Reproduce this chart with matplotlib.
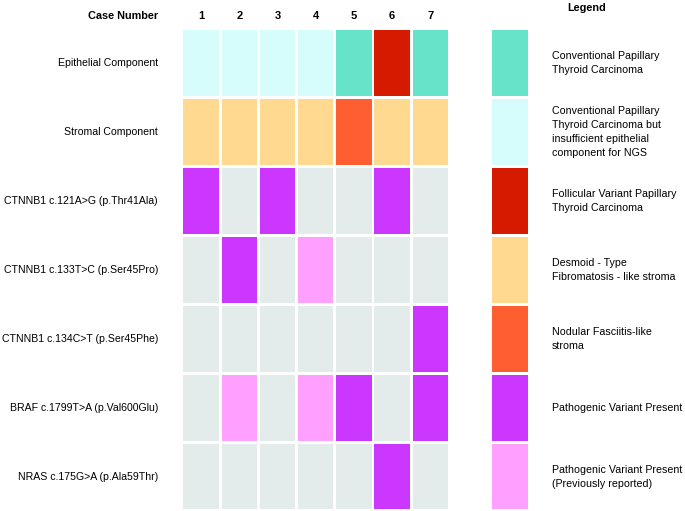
import matplotlib.pyplot as plt

plt.rcParams['font.family'] = ['Liberation Sans', 'DejaVu Sans']

cases = ['1', '2', '3', '4', '5', '6', '7']
rows = ['Epithelial Component', 'Stromal Component',
        'CTNNB1 c.121A>G (p.Thr41Ala)', 'CTNNB1 c.133T>C (p.Ser45Pro)',
        'CTNNB1 c.134C>T (p.Ser45Phe)', 'BRAF c.1799T>A (p.Val600Glu)',
        'NRAS c.175G>A (p.Ala59Thr)']

# category codes per cell
# C conventional PTC, I insufficient, F follicular, D desmoid, N nodular,
# P pathogenic, R previously reported, - none
grid = [
    ['I', 'I', 'I', 'I', 'C', 'F', 'C'],
    ['D', 'D', 'D', 'D', 'N', 'D', 'D'],
    ['P', '-', 'P', '-', '-', 'P', '-'],
    ['-', 'P', '-', 'R', '-', '-', '-'],
    ['-', '-', '-', '-', '-', '-', 'P'],
    ['-', 'R', '-', 'R', 'P', '-', 'P'],
    ['-', '-', '-', '-', '-', 'P', '-'],
]

legend_keys = ['C', 'I', 'F', 'D', 'N', 'P', 'R']
legend_labels = ['Conventional Papillary\nThyroid Carcinoma',
                 'Conventional Papillary\nThyroid Carcinoma but\ninsufficient epithelial\ncomponent for NGS',
                 'Follicular Variant Papillary\nThyroid Carcinoma',
                 'Desmoid - Type\nFibromatosis - like stroma',
                 'Nodular Fasciitis-like\nstroma',
                 'Pathogenic Variant Present',
                 'Pathogenic Variant Present\n(Previously reported)']

colors = {'C': '#66e3c9', 'I': '#d6fcfc', 'F': '#d61a00', 'D': '#ffd990',
          'N': '#ff5f30', 'P': '#cc37ff', 'R': '#ffa0ff', '-': '#e4eceb'}

fig = plt.figure(figsize=(6.85, 5.11), dpi=100)
W, H = 685, 511
ax = fig.add_axes([182 / W, 0, (529.6 - 182) / W, 482.5 / H])
ax.set_xlim(-0.5, 8.6)
ax.set_ylim(6.5, -0.5)
ax.axis('off')

for r, row in enumerate(grid):
    for c, key in enumerate(row):
        ax.bar(c, 0.956, bottom=r - 0.478, width=0.93, color=colors[key])

legend_x = 8.09
for i, key in enumerate(legend_keys):
    ax.bar(legend_x, 0.956, bottom=i - 0.478, width=0.93, color=colors[key])
    ax.text(9.19, i, legend_labels[i], ha='left', va='center', fontsize=7.7,
            clip_on=False, linespacing=1.5)

for r, label in enumerate(rows):
    ax.text(-1.13, r, label, ha='right', va='center', fontsize=7.6,
            clip_on=False)

for c, label in enumerate(cases):
    ax.text(c, -0.68, label, ha='center', va='center', fontsize=8,
            fontweight='bold', clip_on=False)
ax.text(-1.13, -0.68, 'Case Number', ha='right', va='center', fontsize=7.8,
        fontweight='bold', clip_on=False)
ax.text(10.1, -0.8, 'Legend', ha='center', va='center', fontsize=7.8,
        fontweight='bold', clip_on=False)

fig.savefig('out.png', dpi=100)
